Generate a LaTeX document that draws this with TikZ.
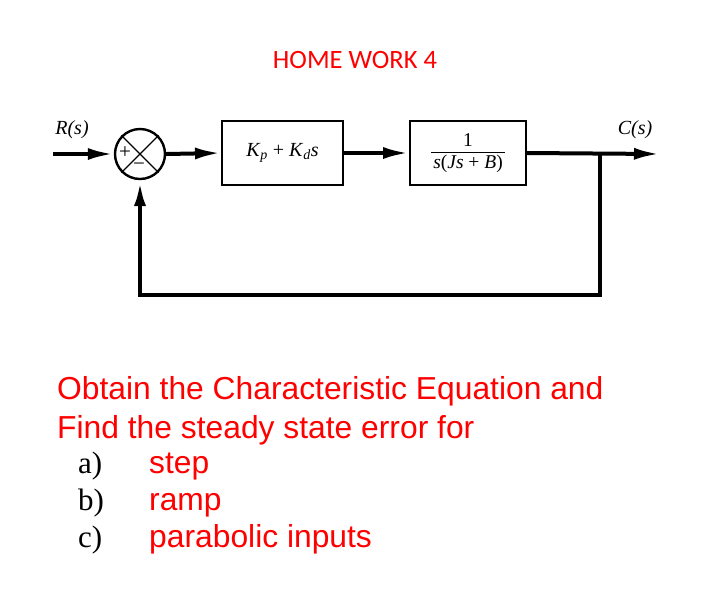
\documentclass[tikz,border=0pt]{standalone}
\usepackage{fontspec}
\setmainfont{Liberation Serif}
\newfontfamily\arialf{Liberation Sans}
\newfontfamily\calibrif{Carlito}
\usetikzlibrary{arrows.meta,calc}
\begin{document}
\begin{tikzpicture}[x=1pt,y=-1pt,
  sig/.style={line width=4pt,line join=miter,-{Latex[length=26pt,width=12pt]}},
  blk/.style={draw,line width=1.9pt,minimum height=64pt,inner sep=0pt},
  lbl/.style={font=\fontsize{20}{22}\selectfont\itshape,inner sep=0pt},
  sgn/.style={font=\fontsize{21}{21}\selectfont,inner sep=0pt},
  qtext/.style={text=red,font=\arialf\fontsize{31.8}{36}\selectfont,anchor=base west,inner sep=0pt},
  itemlbl/.style={font=\fontsize{31}{34}\selectfont,anchor=base west,inner sep=0pt}]
\useasboundingbox (0,0) rectangle (708,614);
\node[font=\calibrif\fontsize{26.5}{30}\selectfont,text=red,anchor=base,inner sep=0pt] (title) at (355,68) {HOME WORK 4};
% summing junction
\node[circle,draw,line width=2.4pt,minimum size=50pt,inner sep=0pt] (sum) at (140,154) {};
\draw[line width=1.4pt] (sum.north west) -- (sum.south east) (sum.north east) -- (sum.south west);
\node[sgn] (plus) at ($(sum.center)+(-15,-1)$) {+};
\node[sgn] (minus) at ($(sum.center)+(-1,13)$) {\textminus};
% blocks
\node[blk,minimum width=121pt] (b1) at (282.5,153) {\fontsize{20}{24}\selectfont\textit{K}\textsubscript{\textit{p}} + \textit{K}\textsubscript{\textit{d}}\textit{s}};
\node[blk,minimum width=116pt] (b2) at (468,153) {\fontsize{19.5}{22}\selectfont\renewcommand{\arraystretch}{1.05}\begin{tabular}{@{\hspace{2pt}}c@{\hspace{2pt}}}1\\[-1pt]\hline\textit{s}(\textit{Js} + \textit{B})\end{tabular}};
% coordinates
\coordinate (in) at (53,154);
\coordinate (out) at (660,154);
\coordinate (branch) at (600,154);
\coordinate (fb) at (140,295);
% labels
\node[lbl] (R) at (72,130) {R(s)};
\node[lbl] (C) at (635,130) {C(s)};
% connectors
\draw[sig] (in) -- (sum.west);
\draw[sig] (sum.east) -- (b1.west);
\draw[sig] (b1.east) -- (b2.west);
\draw[sig] (b2.east) -- (out);
\draw[sig,line width=4.6pt] (branch) |- (fb) -- (sum.south);
% question text
\node[qtext] (q1) at (57,399) {Obtain the Characteristic Equation and};
\node[qtext] (q2) at (57,438) {Find the steady state error for};
\node[itemlbl] (la) at (78,473) {a)};
\node[itemlbl] (lb) at (78,510) {b)};
\node[itemlbl] (lc) at (78,547) {c)};
\node[qtext] (ia) at (149,473) {step};
\node[qtext] (ib) at (149,510) {ramp};
\node[qtext] (ic) at (149,547) {parabolic inputs};
\end{tikzpicture}
\end{document}
